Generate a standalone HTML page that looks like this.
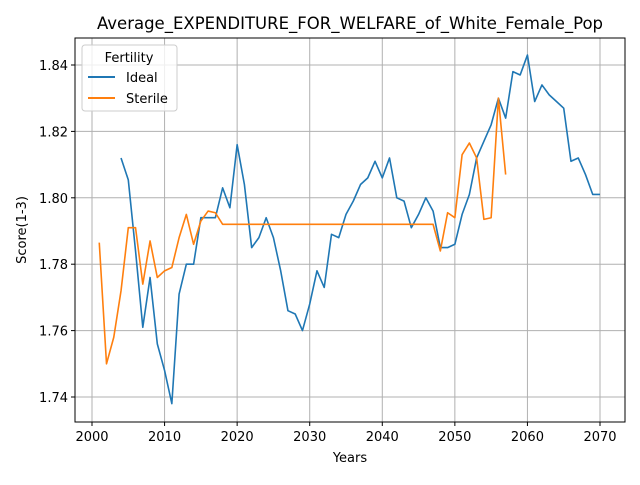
<!DOCTYPE html>
<html><head><meta charset="utf-8"><style>
body{margin:0;background:#fff}
svg{font-family:"DejaVu Sans","Liberation Sans",sans-serif}
</style></head><body>
<svg id="chart" width="640" height="480" xmlns="http://www.w3.org/2000/svg">
<rect width="640" height="480" fill="#fff"/>
<g id="grid"></g>
<g id="series"></g>
<rect x="75" y="38" width="550" height="384" fill="none" stroke="#000" stroke-width="1"/>
<g id="ticks"></g>
<text x="350" y="29" font-size="16.5" text-anchor="middle">Average_EXPENDITURE_FOR_WELFARE_of_White_Female_Pop</text>
<text x="350" y="462" font-size="13" text-anchor="middle">Years</text>
<text transform="translate(26,230) rotate(-90)" font-size="13" text-anchor="middle">Score(1-3)</text>
<g>
<rect x="82" y="45" width="95" height="66" rx="3" fill="#fff" fill-opacity="0.8" stroke="#ccc"/>
<text x="129" y="62" font-size="13" text-anchor="middle">Fertility</text>
<line x1="88" y1="77" x2="115" y2="77" stroke="#1f77b4" stroke-width="2"/>
<text x="126" y="82" font-size="13">Ideal</text>
<line x1="88" y1="98" x2="115" y2="98" stroke="#ff7f0e" stroke-width="2"/>
<text x="126" y="103" font-size="13">Sterile</text>
</g>
</svg>
<script>
const idealStart = 2004;
const idealValues = [1.812,1.8054,1.784,1.761,1.776,1.756,1.748,1.738,1.771,1.780,1.780,1.794,1.794,1.794,1.803,1.797,1.816,1.804,1.785,1.788,1.794,1.788,1.778,1.766,1.765,1.760,1.768,1.778,1.773,1.789,1.788,1.795,1.799,1.804,1.806,1.811,1.806,1.812,1.800,1.799,1.791,1.795,1.800,1.796,1.785,1.785,1.786,1.795,1.801,1.812,1.817,1.822,1.830,1.824,1.838,1.837,1.843,1.829,1.834,1.831,1.829,1.827,1.811,1.812,1.807,1.801,1.801];
const sterileStart = 2001;
const sterileValues = [1.7865,1.750,1.758,1.772,1.791,1.791,1.774,1.787,1.776,1.778,1.779,1.788,1.795,1.786,1.793,1.796,1.7955,1.792,1.792,1.792,1.792,1.792,1.792,1.792,1.792,1.792,1.792,1.792,1.792,1.792,1.792,1.792,1.792,1.792,1.792,1.792,1.792,1.792,1.792,1.792,1.792,1.792,1.792,1.792,1.792,1.792,1.792,1.784,1.7955,1.794,1.813,1.8165,1.812,1.7935,1.794,1.830,1.807];
const xTicks = [2000,2010,2020,2030,2040,2050,2060,2070];
const yTicks = [1.74,1.76,1.78,1.80,1.82,1.84];
const NS="http://www.w3.org/2000/svg";
function xs(v){return 92+(v-2000)*508/70;}
function ys(v){return 397-(v-1.74)*3320;}
function mk(tag,attrs,parent){const e=document.createElementNS(NS,tag);for(const k in attrs)e.setAttribute(k,attrs[k]);parent.appendChild(e);return e;}
const grid=document.getElementById('grid'),ticks=document.getElementById('ticks'),series=document.getElementById('series');
xTicks.forEach(t=>{const x=xs(t);
 const g=mk('line',{x1:x,y1:38,x2:x,y2:422,stroke:'#b0b0b0','stroke-width':1},grid);
 
 
 mk('line',{x1:x,y1:422,x2:x,y2:426,stroke:'#000'},ticks);
 const l=mk('text',{x:x,y:441,'font-size':13,'text-anchor':'middle'},ticks);l.textContent=t;
 
 
});
yTicks.forEach(t=>{const y=ys(t);
 const g=mk('line',{x1:75,y1:y,x2:625,y2:y,stroke:'#b0b0b0','stroke-width':1},grid);
 
 
 mk('line',{x1:71,y1:y,x2:75,y2:y,stroke:'#000'},ticks);
 const l=mk('text',{x:68,y:y+5,'font-size':13,'text-anchor':'end'},ticks);l.textContent=t.toFixed(2);
 
 
});
function line(start,vals,color,name){
 const pts=vals.map((v,i)=>xs(start+i).toFixed(2)+','+ys(v).toFixed(2)).join(' ');
 const p=mk('polyline',{points:pts,fill:'none',stroke:color,'stroke-width':1.6,'stroke-linejoin':'round'},series);
 
 
}
line(idealStart,idealValues,'#1f77b4','ideal-line');
line(sterileStart,sterileValues,'#ff7f0e','sterile-line');
</script>
</body></html>
